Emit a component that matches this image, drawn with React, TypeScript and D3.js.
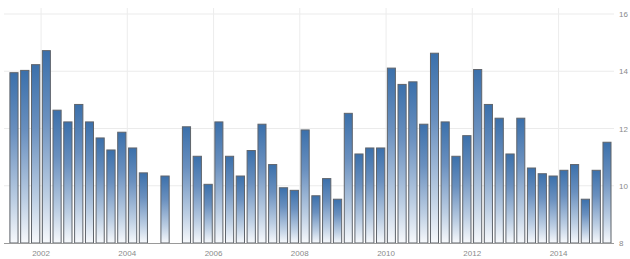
import React from 'react'
import * as d3 from 'd3'

// quarterly values, 2001 Q2 .. 2015 Q1 (null = no data)
const quarters: string[] = []
for (let y = 2001; y <= 2015; y++) {
  for (let q = 1; q <= 4; q++) {
    if ((y === 2001 && q === 1) || (y === 2015 && q > 1)) continue
    quarters.push(`${y}-Q${q}`)
  }
}

const values: (number | null)[] = [
  13.95, 14.03, 14.23,
  14.72, 12.64, 12.23, 12.84,
  12.23, 11.67, 11.25, 11.87,
  11.32, 10.45, null, 10.34,
  null, 12.06, 11.03, 10.05,
  12.23, 11.03, 10.34, 11.23,
  12.15, 10.74, 9.93, 9.84,
  11.95, 9.65, 10.25, 9.53,
  12.53, 11.11, 11.32, 11.32,
  14.11, 13.54, 13.63, 12.15,
  14.63, 12.23, 11.03, 11.75,
  14.06, 12.84, 12.36, 11.11,
  12.36, 10.62, 10.42, 10.34,
  10.54, 10.74, 9.53, 10.54,
  11.52,
]

const yearTicks = [2002, 2004, 2006, 2008, 2010, 2012, 2014]
const valueTicks = [8, 10, 12, 14, 16]

const W = 630
const H = 259

function qStart(key: string) {
  const [y, q] = key.split('-Q').map(Number)
  return new Date(y, (q - 1) * 3, 1)
}

export default function App() {
  const x = d3.scaleTime()
    .domain([new Date(2001, 3, 1), new Date(2015, 3, 1)])
    .range([8.6, 612.3])
  const y = d3.scaleLinear().domain([8, 16]).range([243, 14])

  const bars = quarters.map((k, i) => {
    const s = qStart(k)
    const e = d3.timeMonth.offset(s, 3)
    return { k, v: values[i], x0: x(s), x1: x(e) }
  }).filter(d => d.v != null)

  return (
    <svg width={W} height={H} style={{ position: 'absolute', left: 0, top: 0, fontFamily: 'Arial, "Liberation Sans", sans-serif' }}>
      <defs>
        <linearGradient id="barGrad" x1="0" y1="0" x2="0" y2="1">
          <stop offset="0%" stopColor="#3b70ab" />
          <stop offset="35%" stopColor="#6a90bf" />
          <stop offset="75%" stopColor="#bccee3" />
          <stop offset="100%" stopColor="#f7f9fc" />
        </linearGradient>
      </defs>
      {valueTicks.filter(t => t > 8).map(t => (
        <line key={'h' + t} x1={4} x2={614} y1={y(t)} y2={y(t)} stroke="#ebebeb" strokeWidth={1} />
      ))}
      {yearTicks.map(t => (
        <line key={'v' + t} x1={x(new Date(t, 0, 1))} x2={x(new Date(t, 0, 1))} y1={8} y2={243} stroke="#ececec" strokeWidth={1} />
      ))}
      {bars.map(d => (
        <rect key={d.k}
          x={d.x0 + 1.3} width={d.x1 - d.x0 - 2.6}
          y={y(d.v as number)} height={y(8) - y(d.v as number)}
          fill="url(#barGrad)" stroke="#5f646b" strokeWidth={1} />
      ))}
      <line x1={4} x2={614} y1={243.5} y2={243.5} stroke="#9a9a9a" strokeWidth={1} />
      {yearTicks.map(t => (
        <text key={'xl' + t} x={x(new Date(t, 0, 1))} y={256} fontSize={8} fill="#8a8a8a" textAnchor="middle">{t}</text>
      ))}
      {valueTicks.map(t => (
        <text key={'yl' + t} x={619} y={y(t) + 3} fontSize={8} fill="#8a8a8a" textAnchor="start">{t}</text>
      ))}
    </svg>
  )
}
